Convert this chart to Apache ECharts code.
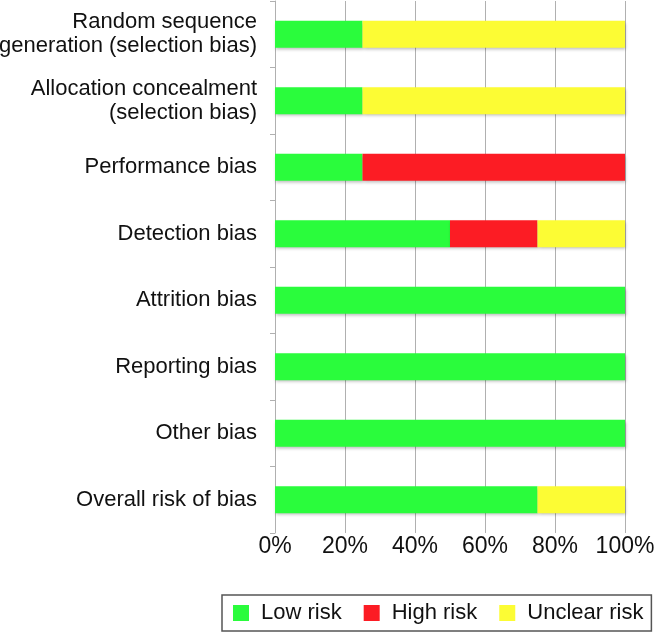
<!DOCTYPE html>
<html>
<head>
<meta charset="utf-8">
<script src="https://cdn.jsdelivr.net/npm/echarts@6/dist/echarts.min.js"></script>
<style>html,body{margin:0;padding:0;background:#fff;}#c{width:654px;height:637px;}</style>
</head>
<body>
<div id="c"></div>
<script>
var categories = [
  "Random sequence\ngeneration (selection bias)",
  "Allocation concealment\n(selection bias)",
  "Performance bias",
  "Detection bias",
  "Attrition bias",
  "Reporting bias",
  "Other bias",
  "Overall risk of bias"
];
var lowRisk = [25, 25, 25, 50, 100, 100, 100, 75];
var highRisk = [0, 0, 75, 25, 0, 0, 0, 0];
var unclearRisk = [75, 75, 0, 25, 0, 0, 0, 25];
var xTicks = [0, 20, 40, 60, 80, 100];

var chart = echarts.init(document.getElementById('c'), null, {renderer: 'canvas'});
var FONT = 'Liberation Sans, Arial, sans-serif';
var barStyle = function (c) {
  return {color: c, shadowColor: 'rgba(0,0,0,0.25)', shadowBlur: 3, shadowOffsetX: 1, shadowOffsetY: 2};
};
chart.setOption({
  animation: false,
  backgroundColor: '#fff',
  grid: {left: 275, right: 29, top: 1, bottom: 104, containLabel: false, outerBoundsMode: 'none'},
  xAxis: {
    type: 'value', min: 0, max: 100, interval: 20,
    axisLine: {show: false},
    axisTick: {show: false},
    splitLine: {show: true, lineStyle: {color: '#b0b0b0', width: 1}},
    axisLabel: {
      fontSize: 23, fontFamily: FONT, color: '#111', margin: 2, hideOverlap: false,
      formatter: function (v) { return xTicks.indexOf(v) >= 0 ? v + '%' : ''; }
    }
  },
  yAxis: {
    type: 'category', inverse: true, data: categories,
    axisLine: {show: true, lineStyle: {color: '#b0b0b0'}},
    axisTick: {show: true, length: 5, lineStyle: {color: '#b0b0b0'}},
    axisLabel: {fontSize: 22, fontFamily: FONT, color: '#111', margin: 18, lineHeight: 24, align: 'right'}
  },
  legend: {
    left: 222, top: 595,
    data: ['Low risk', 'High risk', 'Unclear risk'],
    icon: 'rect', itemWidth: 16, itemHeight: 16, itemGap: 22,
    borderColor: '#555', borderWidth: 1.5, padding: [7, 8, 7, 11],
    textStyle: {fontSize: 22, fontFamily: FONT, color: '#111', padding: [0, 0, 0, 7]}
  },
  series: [
    {name: 'Low risk', type: 'bar', stack: 'a', data: lowRisk, barWidth: 27, itemStyle: barStyle('#2afc3c')},
    {name: 'High risk', type: 'bar', stack: 'a', data: highRisk, barWidth: 27, itemStyle: barStyle('#fc1c24')},
    {name: 'Unclear risk', type: 'bar', stack: 'a', data: unclearRisk, barWidth: 27, itemStyle: barStyle('#fcfc34')}
  ]
});
</script>
</body>
</html>
